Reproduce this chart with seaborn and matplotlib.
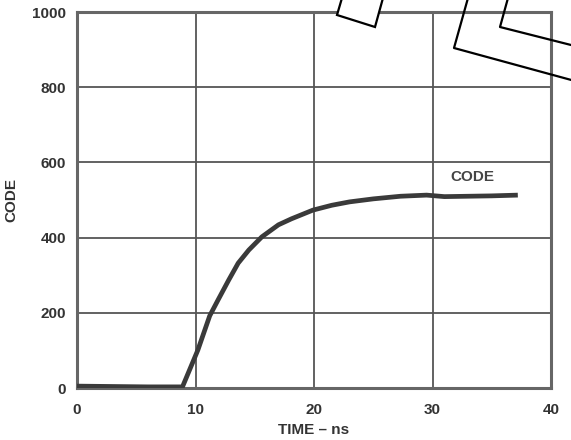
import matplotlib
matplotlib.use("Agg")
import matplotlib.pyplot as plt
from matplotlib.patches import Polygon
from matplotlib.lines import Line2D
import seaborn as sns
import pandas as pd

# Settling response: output code versus time
time_ns = [0, 3, 6, 8.9, 10.2, 11.2, 11.9, 12.8, 13.6, 14.5, 15.6, 17.0, 18.1,
           19.9, 21.5, 23.0, 25.0, 27.3, 29.5, 31.0, 33.0, 35.0, 37.2]
code = [5, 4, 3, 3, 101, 192, 234, 287, 332, 367, 402, 434, 450,
        473, 486, 495, 503, 510, 513, 509, 510, 511, 513]

x_ticks = [0, 10, 20, 30, 40]
y_ticks = [0, 200, 400, 600, 800, 1000]

sns.set_theme(style="white")
plt.rcParams["font.family"] = ["Liberation Sans", "DejaVu Sans"]

W, H = 571, 440
fig = plt.figure(figsize=(W / 100, H / 100), dpi=100)
ax = fig.add_axes([77 / W, (H - 388) / H, (551 - 77) / W, (388 - 12) / H])

df = pd.DataFrame({"TIME": time_ns, "CODE": code})
sns.lineplot(data=df, x="TIME", y="CODE", ax=ax, color="#3a3a3a",
             linewidth=3.4, solid_capstyle="butt", solid_joinstyle="round", zorder=3)

ax.set_xlim(0, 40)
ax.set_ylim(0, 1000)
ax.set_xticks(x_ticks)
ax.set_yticks(y_ticks)
ax.set_xticklabels([str(v) for v in x_ticks])
ax.set_yticklabels([str(v) for v in y_ticks])
ax.grid(True, color="#555555", linewidth=1.3)
ax.set_axisbelow(True)
for s in ax.spines.values():
    s.set_visible(True)
    s.set_color("#666666")
    s.set_linewidth(2.2)

FS = 11
ax.tick_params(axis="both", length=0, labelsize=FS, labelcolor="#333333")
ax.tick_params(axis="x", pad=11)
ax.tick_params(axis="y", pad=8)
for lab in ax.get_xticklabels() + ax.get_yticklabels():
    lab.set_fontweight("bold")

ax.set_xlabel("TIME – ns", fontsize=FS, fontweight="bold", color="#333333")
ax.set_ylabel("CODE", fontsize=FS, fontweight="bold", color="#333333")
ax.xaxis.set_label_coords(0.5, -0.093)
ax.yaxis.set_label_coords(-0.124, 0.5)

ax.text(33.4, 562, "CODE", fontsize=FS, fontweight="bold", color="#444444",
        ha="center", va="center")

# Outlined callout boxes along the top edge
def fig_xy(px, py):
    return (px / W, 1 - py / H)

box = Polygon([fig_xy(342, -2), fig_xy(337, 15), fig_xy(375, 27), fig_xy(383, -2)],
              closed=False, facecolor="white", edgecolor="black", linewidth=1.6,
              transform=fig.transFigure, zorder=10)
fig.patches.append(box)
for pts in ([(468, -2), (454, 48), (575, 81)], [(508, -2), (500, 27), (575, 46)]):
    xs, ys = zip(*[fig_xy(*p) for p in pts])
    fig.lines.append(Line2D(xs, ys, color="black", linewidth=1.6,
                            transform=fig.transFigure, zorder=10))

fig.savefig("out.png", dpi=100, facecolor="white")
